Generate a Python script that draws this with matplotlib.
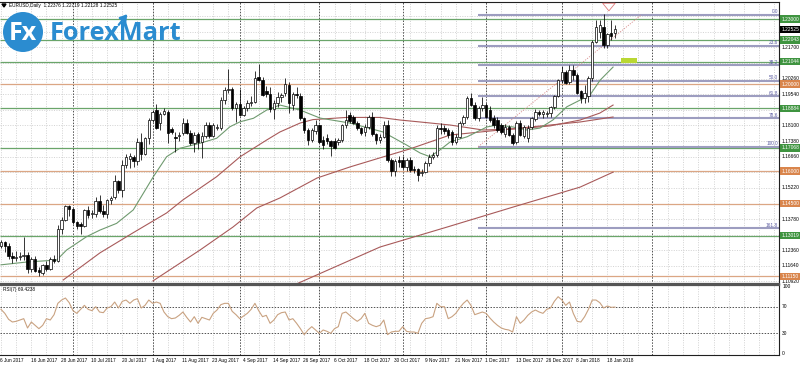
import numpy as np
import matplotlib.pyplot as plt
import matplotlib.transforms as mtransforms
from matplotlib.patches import Rectangle, Circle

# ---- EURUSD daily candles, 6 Jun 2017 .. 22 Jan 2018 ----
opens = [1.1255, 1.1272, 1.1255, 1.1210, 1.1198, 1.1205, 1.1210, 1.1215, 1.1150, 1.1197,
         1.1145, 1.1130, 1.1165, 1.1150, 1.1195, 1.1185, 1.1335, 1.1375, 1.1440, 1.1425,
         1.1365, 1.1355, 1.1345, 1.1420, 1.1400, 1.1400, 1.1460, 1.1415, 1.1400, 1.1465,
         1.1480, 1.1552, 1.1515, 1.1630, 1.1655, 1.1665, 1.1645, 1.1735, 1.1680, 1.1750,
         1.1835, 1.1880, 1.1820, 1.1865, 1.1870, 1.1795, 1.1758, 1.1760, 1.1774, 1.1820,
         1.1775, 1.1730, 1.1770, 1.1735, 1.1760, 1.1812, 1.1762, 1.1800, 1.1800, 1.1925,
         1.1975, 1.1980, 1.1890, 1.1910, 1.1860, 1.1890, 1.1915, 1.1920, 1.2035, 1.2020,
         1.1970, 1.1955, 1.1885, 1.1915, 1.1940, 1.1958, 1.1998, 1.1905, 1.1955, 1.1945,
         1.1845, 1.1790, 1.1745, 1.1785, 1.1812, 1.1745, 1.1750, 1.1738, 1.1740, 1.1735,
         1.1742, 1.1810, 1.1860, 1.1850, 1.1820, 1.1797, 1.1780, 1.1805, 1.1850, 1.1770,
         1.1743, 1.1758, 1.1812, 1.1651, 1.1600, 1.1650, 1.1650, 1.1620, 1.1651, 1.1608,
         1.1608, 1.1590, 1.1597, 1.1636, 1.1666, 1.1674, 1.1797, 1.1797, 1.1789, 1.1781,
         1.1735, 1.1758, 1.1820, 1.1850, 1.1935, 1.1905, 1.1843, 1.1889, 1.1905, 1.1880,
         1.1843, 1.1835, 1.1812, 1.1770, 1.1805, 1.1766, 1.1735, 1.1820, 1.1760, 1.1750,
         1.1805, 1.1840, 1.1870, 1.1862, 1.1865, 1.1866, 1.1895, 1.1947, 1.2020, 1.2058,
         1.2010, 1.2066, 1.2043, 1.1970, 1.1935, 1.1945, 1.2030, 1.2195, 1.2240, 1.2262,
         1.2180, 1.2237, 1.22376]
highs = [1.1283, 1.1280, 1.1268, 1.1225, 1.1230, 1.1225, 1.1296, 1.1225, 1.1205, 1.1210,
         1.1160, 1.1170, 1.1185, 1.1205, 1.1215, 1.1350, 1.1390, 1.1445, 1.1445, 1.1430,
         1.1370, 1.1365, 1.1425, 1.1440, 1.1420, 1.1480, 1.1490, 1.1445, 1.1470, 1.1485,
         1.1582, 1.1560, 1.1650, 1.1680, 1.1685, 1.1675, 1.1750, 1.1777, 1.1755, 1.1845,
         1.1880, 1.1907, 1.1870, 1.1890, 1.1880, 1.1805, 1.1780, 1.1780, 1.1845, 1.1840,
         1.1790, 1.1780, 1.1780, 1.1780, 1.1825, 1.1825, 1.1820, 1.1815, 1.1940, 1.1985,
         1.2070, 1.1985, 1.1920, 1.1980, 1.1900, 1.1925, 1.1945, 1.2060, 1.2092, 1.2035,
         1.1990, 1.1985, 1.1925, 1.1965, 1.1960, 1.2030, 1.2010, 1.1965, 1.1985, 1.1960,
         1.1850, 1.1800, 1.1800, 1.1835, 1.1815, 1.1760, 1.1770, 1.1745, 1.1750, 1.1750,
         1.1815, 1.1880, 1.1870, 1.1860, 1.1830, 1.1805, 1.1815, 1.1860, 1.1870, 1.1775,
         1.1770, 1.1830, 1.1835, 1.1660, 1.1655, 1.1670, 1.1670, 1.1660, 1.1665, 1.1625,
         1.1615, 1.1610, 1.1645, 1.1680, 1.1690, 1.1810, 1.1820, 1.1810, 1.1800, 1.1790,
         1.1770, 1.1830, 1.1860, 1.1945, 1.1960, 1.1920, 1.1900, 1.1940, 1.1915, 1.1900,
         1.1860, 1.1850, 1.1820, 1.1815, 1.1810, 1.1775, 1.1830, 1.1835, 1.1810, 1.1810,
         1.1850, 1.1885, 1.1880, 1.1880, 1.1875, 1.1900, 1.1950, 1.2025, 1.2085, 1.2065,
         1.2090, 1.2088, 1.2050, 1.1975, 1.1995, 1.2040, 1.2205, 1.2297, 1.2297, 1.2323,
         1.2235, 1.2296, 1.22719]
lows = [1.1245, 1.1225, 1.1195, 1.1175, 1.1185, 1.1190, 1.1190, 1.1130, 1.1135, 1.1135,
        1.1118, 1.1120, 1.1140, 1.1145, 1.1175, 1.1180, 1.1310, 1.1370, 1.1395, 1.1355,
        1.1335, 1.1312, 1.1340, 1.1385, 1.1385, 1.1390, 1.1405, 1.1390, 1.1385, 1.1450,
        1.1470, 1.1500, 1.1480, 1.1615, 1.1612, 1.1620, 1.1630, 1.1650, 1.1675, 1.1725,
        1.1825, 1.1795, 1.1790, 1.1860, 1.1730, 1.1770, 1.1690, 1.1740, 1.1765, 1.1770,
        1.1720, 1.1690, 1.1700, 1.1660, 1.1750, 1.1750, 1.1755, 1.1790, 1.1790, 1.1910,
        1.1960, 1.1880, 1.1825, 1.1855, 1.1855, 1.1875, 1.1900, 1.1915, 1.2015, 1.1945,
        1.1940, 1.1870, 1.1840, 1.1895, 1.1920, 1.1945, 1.1866, 1.1880, 1.1935, 1.1835,
        1.1775, 1.1718, 1.1735, 1.1770, 1.1730, 1.1700, 1.1725, 1.1668, 1.1700, 1.1720,
        1.1735, 1.1800, 1.1820, 1.1815, 1.1790, 1.1765, 1.1760, 1.1795, 1.1760, 1.1725,
        1.1730, 1.1750, 1.1640, 1.1575, 1.1575, 1.1620, 1.1610, 1.1600, 1.1595, 1.1590,
        1.1555, 1.1575, 1.1590, 1.1625, 1.1655, 1.1665, 1.1770, 1.1770, 1.1750, 1.1720,
        1.1725, 1.1750, 1.1810, 1.1840, 1.1900, 1.1835, 1.1830, 1.1875, 1.1845, 1.1825,
        1.1800, 1.1780, 1.1770, 1.1755, 1.1760, 1.1718, 1.1725, 1.1760, 1.1750, 1.1735,
        1.1795, 1.1830, 1.1855, 1.1845, 1.1850, 1.1850, 1.1885, 1.1940, 1.2005, 1.2000,
        1.2000, 1.2020, 1.1955, 1.1915, 1.1915, 1.1920, 1.2015, 1.2190, 1.2215, 1.2165,
        1.2165, 1.2205, 1.22128]
closes = [1.1272, 1.1255, 1.1210, 1.1198, 1.1205, 1.1210, 1.1215, 1.1150, 1.1197, 1.1140,
          1.1135, 1.1165, 1.1150, 1.1195, 1.1185, 1.1335, 1.1375, 1.1440, 1.1425, 1.1365,
          1.1345, 1.1345, 1.1420, 1.1398, 1.1405, 1.1460, 1.1415, 1.1400, 1.1465, 1.1475,
          1.1552, 1.1515, 1.1630, 1.1665, 1.1670, 1.1645, 1.1735, 1.1680, 1.1750, 1.1835,
          1.1870, 1.1800, 1.1865, 1.1875, 1.1775, 1.1780, 1.1750, 1.1765, 1.1820, 1.1775,
          1.1730, 1.1766, 1.1735, 1.1760, 1.1812, 1.1762, 1.1810, 1.1805, 1.1925, 1.1975,
          1.1980, 1.1890, 1.1910, 1.1860, 1.1890, 1.1915, 1.1920, 1.2030, 1.2020, 1.1950,
          1.1955, 1.1885, 1.1915, 1.1940, 1.1950, 1.2000, 1.1912, 1.1955, 1.1950, 1.1845,
          1.1790, 1.1745, 1.1790, 1.1812, 1.1735, 1.1720, 1.1738, 1.1715, 1.1705, 1.1742,
          1.1810, 1.1835, 1.1830, 1.1820, 1.1797, 1.1775, 1.1805, 1.1850, 1.1770, 1.1743,
          1.1758, 1.1812, 1.1651, 1.1600, 1.1648, 1.1640, 1.1620, 1.1651, 1.1605, 1.1606,
          1.1582, 1.1597, 1.1636, 1.1666, 1.1674, 1.1797, 1.1795, 1.1785, 1.1766, 1.1735,
          1.1758, 1.1820, 1.1850, 1.1935, 1.1905, 1.1843, 1.1889, 1.1905, 1.1850, 1.1835,
          1.1812, 1.1789, 1.1781, 1.1805, 1.1766, 1.1728, 1.1820, 1.1766, 1.1805, 1.1800,
          1.1843, 1.1870, 1.1865, 1.1870, 1.1868, 1.1895, 1.1947, 1.2020, 1.2058, 1.2005,
          1.2066, 1.2043, 1.1958, 1.1935, 1.1960, 1.2030, 1.2195, 1.2265, 1.2275, 1.2180,
          1.2230, 1.2220, 1.22525]

date_labels = ["6 Jun 2017", "16 Jun 2017", "28 Jun 2017", "10 Jul 2017", "20 Jul 2017",
               "1 Aug 2017", "11 Aug 2017", "23 Aug 2017", "4 Sep 2017", "14 Sep 2017",
               "26 Sep 2017", "6 Oct 2017", "18 Oct 2017", "30 Oct 2017", "9 Nov 2017",
               "21 Nov 2017", "1 Dec 2017", "13 Dec 2017", "26 Dec 2017", "8 Jan 2018",
               "18 Jan 2018"]
date_label_bars = list(range(0, 161, 8))
month_start_bars = [19, 40, 63, 84, 106, 128, 148, 171.8]

# moving averages, read as (bar, price) points
ma_fast_bars = [0, 6.8, 14.7, 17.3, 22.6, 26.1, 30.5, 34.9, 40.2, 43.7, 47.2, 52.5, 56.9, 60.4,
                63.1, 66.6, 70.1, 73.6, 78.9, 84.2, 92.1, 100.8, 107.0, 110.6, 113.2, 115.8,
                118.5, 123.0, 128.2, 130.9, 135.1, 138.8, 142.2, 145.6, 149.3, 152.8, 155.4,
                158.1, 161.5]
ma_fast_vals = [1.1168, 1.1181, 1.1190, 1.1236, 1.1298, 1.1328, 1.1359, 1.1421, 1.1574, 1.1666,
                1.1705, 1.1728, 1.1751, 1.1804, 1.1827, 1.1843, 1.1881, 1.1904, 1.1881, 1.1844,
                1.1821, 1.1780, 1.1720, 1.1683, 1.1666, 1.1697, 1.1734, 1.1758, 1.1803, 1.1812,
                1.1803, 1.1789, 1.1798, 1.1835, 1.1896, 1.1927, 1.1950, 1.2019, 1.2079]
ma50_bars = [16.4, 26.1, 34.8, 43.7, 48.0, 56.9, 63.1, 70.1, 73.6, 78.9, 82.3, 91.2, 100.0,
             105.3, 110.6, 118.5, 127.2, 136.1, 144.9, 152.8, 158.0, 161.5]
ma50_vals = [1.1098, 1.1223, 1.1315, 1.1407, 1.1467, 1.1574, 1.1666, 1.1743, 1.1780, 1.1821,
             1.1837, 1.1847, 1.1847, 1.1835, 1.1826, 1.1812, 1.1789, 1.1794, 1.1808, 1.1835,
             1.1867, 1.1904]
ma100_bars = [40.1, 52.5, 61.2, 67.5, 73.6, 83.4, 92.1, 100.8, 107.9, 118.5, 131.7, 144.9,
              152.8, 161.5]
ma100_vals = [1.1094, 1.1236, 1.1342, 1.1430, 1.1476, 1.1568, 1.1619, 1.1665, 1.1702, 1.1766,
              1.1789, 1.1812, 1.1826, 1.1849]
ma200_bars = [78.1, 100.0, 117.7, 135.1, 152.8, 161.5]
ma200_vals = [1.1081, 1.1250, 1.1342, 1.1434, 1.1526, 1.1595]

rsi = [66, 60, 51, 47, 48, 50, 52, 38, 47, 42, 37, 42, 52, 50, 58, 75, 80, 83, 76, 64,
       60, 66, 72, 66, 64, 70, 62, 61, 68, 70, 77, 68, 78, 80, 75, 80, 82, 68, 72, 80,
       75, 77, 75, 62, 55, 52, 53, 57, 62, 54, 47, 55, 45, 54, 52, 50, 60, 65, 73, 75,
       75, 63, 58, 52, 56, 60, 66, 75, 64, 55, 57, 45, 50, 58, 61, 62, 50, 52, 45, 37,
       28, 35, 40, 35, 30, 35, 33, 30, 37, 40, 60, 62, 57, 52, 48, 52, 60, 45, 42, 40,
       42, 50, 28, 32, 33, 33, 40, 33, 32, 32, 30, 45, 52, 53, 55, 75, 70, 70, 52, 55,
       60, 68, 75, 80, 72, 58, 60, 62, 60, 53, 47, 42, 38, 36, 35, 32, 55, 45, 50, 57,
       62, 65, 62, 60, 66, 68, 78, 85, 80, 72, 77, 60, 48, 47, 55, 66, 80, 80, 76, 68,
       71, 69, 69.42]

# horizontal levels
green_levels = [1.23000, 1.22043, 1.21044, 1.18884, 1.17068, 1.13019]
orange_levels = [1.20000, 1.16000, 1.14500, 1.11150]
grid_prices = [1.10920, 1.11640, 1.12360, 1.13070, 1.13780, 1.14500, 1.15220, 1.15940,
               1.16660, 1.17380, 1.18100, 1.18820, 1.19540, 1.20260, 1.20980, 1.21700,
               1.22420, 1.23140]
axis_labels = [1.21700, 1.20260, 1.19540, 1.18100, 1.17380, 1.16660, 1.15220, 1.13780,
               1.12360, 1.11640, 1.10920]
last_price = 1.22525

# fibonacci retracement
fib_start_bar, fib_end_bar = 125.9, 169.0
fib_low, fib_high = 1.1712, 1.2320
fib_ratios = [0.0, 23.6, 38.2, 50.0, 61.8, 78.6, 100.0, 161.8]

marker_bar, marker_top, marker_tip = 160.4, 1.2362, 1.2325
box_bar0, box_bar1, box_lo, box_hi = 163.6, 167.8, 1.2096, 1.2122

# ---------------- figure ----------------
W, H = 800, 367
fig = plt.figure(figsize=(W / 100, H / 100), dpi=100)
fig.patch.set_facecolor("white")


def rect(x0, y0, x1, y1):
    return [x0 / W, 1 - y1 / H, (x1 - x0) / W, (y1 - y0) / H]


ax = fig.add_axes(rect(0, 2, 779, 283.5))
rax = fig.add_axes(rect(0, 284.5, 779, 355))
XMIN, XMAX = -0.264, 205.28
for a in (ax, rax):
    a.set_xlim(XMIN, XMAX)
    a.set_xticks([])
    a.set_yticks([])
    for s in a.spines.values():
        s.set_color("#202020")
        s.set_linewidth(0.8)
    a.spines["left"].set_visible(False)
ax.set_ylim(1.10820, 1.23787)
rax.set_ylim(-2.55, 103.3)
ax.spines["bottom"].set_linewidth(1.6)
ax.spines["bottom"].set_color("#555555")
rax.spines["top"].set_linewidth(1.6)
rax.spines["top"].set_color("#555555")

light = dict(color="#c4c4c4", lw=0.5, ls=(0, (1.5, 2)), zorder=0)
dark = dict(color="#505050", lw=0.7, ls=(0, (1.5, 1.5)), zorder=0.5)
grid_bars = [b for b in range(0, 206, 4) if b != 172]
for a in (ax, rax):
    a.vlines(grid_bars, 0, 1, transform=a.get_xaxis_transform(), **light)
    a.vlines(month_start_bars, 0, 1, transform=a.get_xaxis_transform(), **dark)
ax.hlines(grid_prices, XMIN, XMAX, **light)
rax.hlines([70, 30], XMIN, XMAX, **dark)

# support / resistance lines
ax.hlines(green_levels, XMIN, XMAX, color="#6aa56a", lw=0.9, zorder=1)
ax.hlines(orange_levels, XMIN, XMAX, color="#dba684", lw=0.9, zorder=1)

# fibonacci
fib_prices = [fib_high - r / 100 * (fib_high - fib_low) for r in fib_ratios]
ax.hlines(fib_prices, fib_start_bar, XMAX, color="#9d9dc0", lw=1.5, zorder=1.2)
ax.plot([fib_start_bar, fib_end_bar], [fib_low, fib_high], color="#d99090",
        lw=0.6, ls=(0, (1.5, 1.5)), zorder=1.3)
for r, p in zip(fib_ratios, fib_prices):
    ax.text(XMAX - 0.3, p + 0.0002, f"{r:.1f}", ha="right", va="bottom",
            fontsize=3.4, color="#5b5ba0", family="Liberation Sans", zorder=5)

# moving averages
ax.plot(ma200_bars, ma200_vals, color="#a85a5a", lw=0.8, zorder=2)
ax.plot(ma100_bars, ma100_vals, color="#a85a5a", lw=0.8, zorder=2)
ax.plot(ma50_bars, ma50_vals, color="#a85a5a", lw=0.8, zorder=2)
ax.plot(ma_fast_bars, ma_fast_vals, color="#6f9a6f", lw=0.8, zorder=2)

# candles
x = np.arange(len(closes))
o = np.array(opens)
c = np.array(closes)
ax.vlines(x, lows, highs, color="black", lw=0.55, zorder=3)
bottoms = np.minimum(o, c)
heights = np.maximum(np.abs(c - o), 0.00004)
up = c >= o
ax.bar(x[up], heights[up], bottom=bottoms[up], width=0.66, facecolor="white",
       edgecolor="black", linewidth=0.5, zorder=4)
ax.bar(x[~up], heights[~up], bottom=bottoms[~up], width=0.66, facecolor="black",
       edgecolor="black", linewidth=0.5, zorder=4)

# markers
ax.annotate("", xy=(marker_bar, marker_tip), xytext=(marker_bar, marker_top),
            arrowprops=dict(arrowstyle="simple,head_width=0.9,head_length=0.55,tail_width=0.45",
                            fc="white", ec="#e07a7a", lw=0.6), zorder=6)
ax.add_patch(Rectangle((box_bar0, box_lo), box_bar1 - box_bar0, box_hi - box_lo,
                       facecolor="#b9d733", edgecolor="none", zorder=5))

# RSI
rax.plot(np.arange(len(rsi)), rsi, color="#c9a281", lw=0.8, zorder=3)
rax.text(0.004, 0.93, "RSI(7) 69.4238", transform=rax.transAxes, fontsize=3.4,
         family="Liberation Sans", va="center", ha="left")

# right-hand price scale
tr = mtransforms.blended_transform_factory(ax.transAxes, ax.transData)
lab = dict(transform=tr, fontsize=3.5, family="Liberation Sans", va="center", ha="left",
           clip_on=False)
for p in axis_labels:
    ax.text(1.003, p, f"{p:.5f}", color="black", **lab)
for p in green_levels:
    ax.text(1.003, p, f"{p:.5f}", color="white",
            bbox=dict(boxstyle="square,pad=0.25", fc="#3f9440", ec="none"), **lab)
for p in orange_levels:
    ax.text(1.003, p, f"{p:.5f}", color="white",
            bbox=dict(boxstyle="square,pad=0.25", fc="#d9854c", ec="none"), **lab)
ax.text(1.003, last_price, f"{last_price:.5f}", color="white",
        bbox=dict(boxstyle="square,pad=0.25", fc="black", ec="none"), **lab)

rtr = mtransforms.blended_transform_factory(rax.transAxes, rax.transData)
for v in [100, 70, 30, 0]:
    rax.text(1.004, v, str(v), transform=rtr, fontsize=3.5, family="Liberation Sans",
             va="center", ha="left", clip_on=False)

# dates
dtr = mtransforms.blended_transform_factory(rax.transData, rax.transAxes)
for b, t in zip(date_label_bars, date_labels):
    rax.text(b - 0.2, -0.075, t, transform=dtr, fontsize=3.4, family="Liberation Sans",
             va="center", ha="left", clip_on=False)

# header + logo (pixel overlay)
ov = fig.add_axes([0, 0, 1, 1], zorder=10)
ov.set_xlim(0, W)
ov.set_ylim(H, 0)
ov.axis("off")
ov.text(9, 5.5, "EURUSD,Daily  1.22376 1.22719 1.22128 1.22525", fontsize=3.4,
        family="Liberation Sans", va="center", ha="left")
ov.fill([2, 6, 4], [4, 4, 7], color="black")
blue = "#2b8cd0"
ov.add_patch(Circle((23, 32), 20, facecolor=blue, edgecolor="none"))
ov.text(23, 34, "Fx", fontsize=18, color="white", family="Open Sans", weight="bold",
        va="center", ha="center")
ov.text(50, 33, "ForexMart", fontsize=18.3, color=blue, family="Open Sans", weight="bold",
        va="center", ha="left")
ov.annotate("", xy=(129, 12), xytext=(117, 27),
            arrowprops=dict(arrowstyle="-|>,head_width=0.25,head_length=0.4", color=blue, lw=1.6))

fig.savefig("out.png", dpi=100, facecolor="white")
